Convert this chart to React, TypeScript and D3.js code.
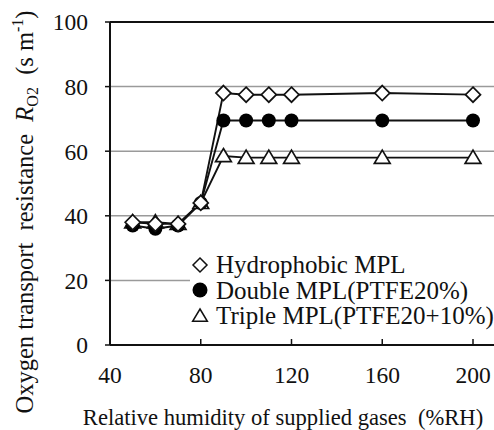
import React from "react";
import * as d3 from "d3";

const rh = [50, 60, 70, 80, 90, 100, 110, 120, 160, 200];
const hydrophobic = [38, 37.5, 37.5, 44, 78, 77.5, 77.5, 77.5, 78, 77.5];
const doubleMpl = [37, 36, 37, 44, 69.5, 69.5, 69.5, 69.5, 69.5, 69.5];
const tripleMpl = [38, 38, 37.5, 44, 58.5, 58, 58, 58, 58, 58];
const xTicks = [40, 80, 120, 160, 200];
const yTicks = [0, 20, 40, 60, 80, 100];
const gridTicks = [20, 40, 60, 80];
const legendLabels = ["Hydrophobic MPL", "Double MPL(PTFE20%)", "Triple MPL(PTFE20+10%)"];

const W = 494, H = 430;
const FONT = '"Liberation Serif", "DejaVu Serif", "Times New Roman", Times, serif';

export default function App() {
  const x = d3.scaleLinear().domain([40, 200]).range([110, 473]);
  const y = d3.scaleLinear().domain([0, 100]).range([345, 22]);
  const xRight = 520;
  const line = d3.line<number>().x((_, i) => x(rh[i])).y((v) => y(v));

  const diamond = (cx: number, cy: number, r = 7.5) =>
    `M${cx},${cy - r}L${cx + r},${cy}L${cx},${cy + r}L${cx - r},${cy}Z`;
  const triangle = (cx: number, cy: number, s = 7.5) =>
    `M${cx},${cy - s}L${cx + s * 1.05},${cy + s * 0.75}L${cx - s * 1.05},${cy + s * 0.75}Z`;

  const series = [tripleMpl, doubleMpl, hydrophobic];
  const tf = { fontFamily: FONT };

  return (
    <svg width={W} height={H} style={{ display: "block", position: "absolute", left: 0, top: 0, fontFamily: FONT }}>
      <rect width={W} height={H} fill="#fff" />
      {gridTicks.map((t) => (
        <line key={t} x1={x(40)} x2={xRight} y1={y(t)} y2={y(t)} stroke="#9a9a9a" strokeWidth={1.5} />
      ))}
      <line x1={x(40)} x2={xRight} y1={y(100)} y2={y(100)} stroke="#111" strokeWidth={2} />
      <line x1={x(40)} x2={x(40)} y1={y(100)} y2={y(0)} stroke="#111" strokeWidth={2} />
      <line x1={x(40)} x2={xRight} y1={y(0)} y2={y(0)} stroke="#111" strokeWidth={2} />
      {yTicks.map((t) => (
        <g key={t}>
          <line x1={x(40) - 5} x2={x(40)} y1={y(t)} y2={y(t)} stroke="#111" strokeWidth={1.5} />
          <text x={x(40) - 22} y={y(t)} dy="0.36em" textAnchor="end" fontSize={23.5} fill="#111" style={tf}>{t}</text>
        </g>
      ))}
      {xTicks.map((t) => (
        <g key={t}>
          <line x1={x(t)} x2={x(t)} y1={y(0)} y2={y(0) - 6} stroke="#111" strokeWidth={1.5} />
          <text x={x(t)} y={383} textAnchor="middle" fontSize={23.5} fill="#111" style={tf}>{t}</text>
        </g>
      ))}
      {series.map((s, k) => (
        <path key={k} d={line(s) || ""} fill="none" stroke="#111" strokeWidth={1.9} />
      ))}
      {tripleMpl.map((v, i) => (
        <path key={"t" + i} d={triangle(x(rh[i]), y(v))} fill="#fff" stroke="#111" strokeWidth={1.7} />
      ))}
      {doubleMpl.map((v, i) => (
        <circle key={"c" + i} cx={x(rh[i])} cy={y(v)} r={7} fill="#000" />
      ))}
      {hydrophobic.map((v, i) => (
        <path key={"d" + i} d={diamond(x(rh[i]), y(v))} fill="#fff" stroke="#111" strokeWidth={1.7} />
      ))}
      <rect x={190} y={252} width={320} height={82} fill="#fff" />
      <path d={diamond(200, 265, 7)} fill="#fff" stroke="#111" strokeWidth={1.5} />
      <circle cx={200} cy={290} r={7.5} fill="#000" />
      <path d={triangle(200, 316, 7)} fill="#fff" stroke="#111" strokeWidth={1.5} />
      {legendLabels.map((l, i) => (
        <text key={l} x={216} y={273 + i * 25.7} fontSize={25} fill="#111" style={tf}>{l}</text>
      ))}
      <text x={283} y={425} textAnchor="middle" fontSize={22.6} fill="#111" style={tf}>
        Relative humidity of supplied gases{"\u00a0\u00a0"}(%RH)
      </text>
      <text transform={`translate(33,${212}) rotate(-90)`} textAnchor="middle" fontSize={24.5} fill="#111" style={tf}>
        Oxygen transport{"\u00a0\u00a0"}resistance{"\u00a0\u00a0"}
        <tspan fontStyle="italic">R</tspan>
        <tspan fontSize={16} dy={5}>O2</tspan>
        <tspan dy={-5}>{"\u00a0\u00a0"}(s m</tspan>
        <tspan fontSize={16} dy={-10}>-1</tspan>
        <tspan dy={10}>)</tspan>
      </text>
    </svg>
  );
}
